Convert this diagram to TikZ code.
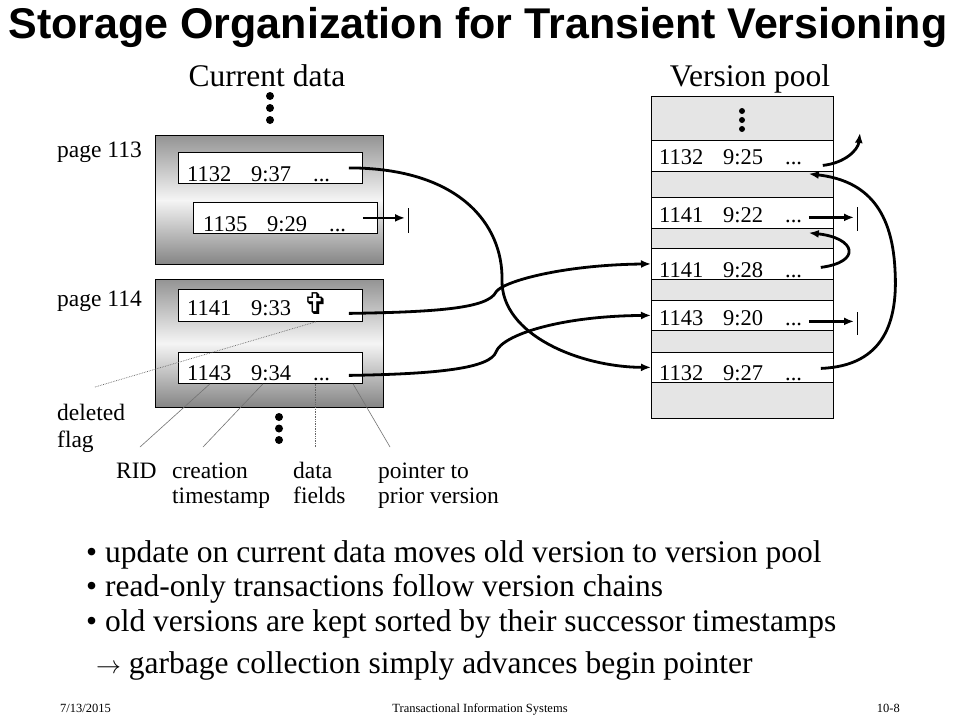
\documentclass[tikz,border=0pt]{standalone}
\usepackage{fontspec}
\setmainfont{Liberation Serif}
\newfontfamily\titlefont{Liberation Sans}
\newfontfamily\symfont{DejaVu Sans}
\usetikzlibrary{arrows.meta}
\newcommand\rectxt[2]{\makebox[64pt][l]{#1}\makebox[62pt][l]{#2}...}
\tikzset{
  recbox/.style={draw, fill=white, line width=0.8pt, inner sep=0pt, minimum height=31pt, anchor=north west},
  pagebox/.style={draw, line width=0.8pt, inner sep=0pt, anchor=north west, top color=black!42, bottom color=black!48, middle color=black!4},
  poolbox/.style={draw, line width=0.8pt, inner sep=0pt, anchor=north west, fill=black!10},
  rectext/.style={font=\fontsize{22.5}{26}\selectfont, inner sep=0pt, anchor=base west},
  lbl/.style={font=\fontsize{23.5}{28}\selectfont, inner sep=0pt, anchor=base west},
  head/.style={font=\fontsize{31.5}{36}\selectfont, inner sep=0pt, anchor=base},
  bul/.style={font=\fontsize{31.5}{36}\selectfont, inner sep=0pt, anchor=base west},
  foot/.style={font=\fontsize{12.5}{15}\selectfont, inner sep=0pt},
  ptr/.style={line width=2.8pt, -{Latex[length=10pt,width=8pt]}},
  nullbar/.style={line width=0.8pt},
  ann/.style={draw=black!55, line width=0.6pt},
  anndot/.style={draw=black!60, line width=0.7pt, densely dotted},
}
\begin{document}
\begin{tikzpicture}[x=1pt, y=-1pt]
\useasboundingbox (0,0) rectangle (960,720);
\fill[white] (0,0) rectangle (960,720);

% title
\node[font=\titlefont\bfseries\fontsize{43}{48}\selectfont, inner sep=0pt, anchor=base] (title) at (478,38) {Storage Organization for Transient Versioning};
\node[head] (hcur) at (267,86) {Current data};
\node[head] (hpool) at (750,86) {Version pool};

% current data pages
\node[pagebox, minimum width=228pt, minimum height=129pt] (p113) at (155,135) {};
\node[pagebox, minimum width=228pt, minimum height=128pt] (p114) at (155,279) {};
\node[lbl] (l113) at (57,157) {page 113};
\node[lbl] (l114) at (57,306) {page 114};

\fill (270,96) circle (4);
\fill (270,108) circle (4);
\fill (270,120) circle (4);
\fill (279,417) circle (4);
\fill (279,428.5) circle (4);
\fill (279,440) circle (4);

\node[recbox, minimum width=184pt] (r1132) at (178,152) {};
\node[recbox, minimum width=184pt] (r1135) at (193,202) {};
\node[recbox, minimum width=184pt, minimum height=32pt] (r1141) at (178,289) {};
\node[recbox, minimum width=184pt] (r1143) at (178,352) {};

\node[rectext] (t1132) at ([xshift=9pt,yshift=2pt]r1132.south west) {\rectxt{1132}{9:37}};
\node[rectext] (t1135) at ([xshift=10pt,yshift=2pt]r1135.south west) {\rectxt{1135}{9:29}};
\node[rectext] (t1141) at ([xshift=9pt,yshift=6pt]r1141.south west) {\makebox[64pt][l]{1141}9:33};
\node[rectext] (t1143) at ([xshift=9pt,yshift=3pt]r1143.south west) {\rectxt{1143}{9:34}};
\node[font=\symfont\bfseries\fontsize{30}{34}\selectfont, inner sep=0pt] (cross) at (316,304) {✞};

% version pool
\node[poolbox, minimum width=182pt, minimum height=322pt] (pool) at (651,96) {};
\fill (742,111) circle (3);
\fill (742,120) circle (3);
\fill (742,129) circle (3);
\node[recbox, minimum width=182pt] (v1) at (651,140) {};
\node[recbox, minimum width=182pt] (v2) at (651,197) {};
\node[recbox, minimum width=182pt] (v3) at (651,248) {};
\node[recbox, minimum width=182pt, minimum height=30pt] (v4) at (651,300) {};
\node[recbox, minimum width=182pt, minimum height=30pt] (v5) at (651,352) {};
\node[rectext] (tv1) at ([xshift=8pt,yshift=7pt]v1.south west) {\rectxt{1132}{9:25}};
\node[rectext] (tv2) at ([xshift=8pt,yshift=6pt]v2.south west) {\rectxt{1141}{9:22}};
\node[rectext] (tv3) at ([xshift=8pt,yshift=2pt]v3.south west) {\rectxt{1141}{9:28}};
\node[rectext] (tv4) at ([xshift=8pt,yshift=5pt]v4.south west) {\rectxt{1143}{9:20}};
\node[rectext] (tv5) at ([xshift=8pt,yshift=2pt]v5.south west) {\rectxt{1132}{9:27}};

% pointer start / end coordinates
\coordinate (s1) at ([xshift=-14pt]r1132.east);
\coordinate (s2) at ([xshift=-14pt,yshift=-8pt]r1141.east);
\coordinate (s3) at ([xshift=-14pt,yshift=-7.5pt]r1143.east);
\coordinate (s4) at ([xshift=-15pt]r1135.east);
\coordinate (z1) at (408,220);
\coordinate (sv1) at ([xshift=-11pt,yshift=-9.5pt]v1.east);
\coordinate (sv2) at ([xshift=-25pt,yshift=-4.5pt]v2.east);
\coordinate (sv3) at ([xshift=-13pt,yshift=-3.5pt]v3.east);
\coordinate (sv4) at ([xshift=-25pt,yshift=-6pt]v4.east);
\coordinate (sv5) at ([xshift=-13pt,yshift=-1pt]v5.east);
\coordinate (ev1) at (860,133);
\coordinate (ev5) at ([xshift=-25pt,yshift=-2pt]v1.south east);
\coordinate (ev3) at ([xshift=-25pt,yshift=-4pt]v2.south east);
\coordinate (z2) at (857,219);
\coordinate (z3) at (857,323.5);

% pointers from current data
\draw[ptr] (s1) .. controls (460,168) and (503,225) .. (502,280) .. controls (501,335) and (580,367) .. (v5.west);
\draw[ptr] (s2) .. controls (440,312) and (488,308) .. (496,292) .. controls (502,282) and (560,265) .. (v3.west);
\draw[ptr] (s3) .. controls (440,374) and (490,368) .. (496,352) .. controls (502,335) and (560,316) .. (v4.west);
\draw[ptr, shorten >=3pt] (s4) -- (z1 |- s4);
\draw[nullbar] ([yshift=12pt]z1) -- ([yshift=-13pt]z1);

% pointers in version pool
\draw[ptr] (sv1) .. controls (845,163) and (858,150) .. (ev1);
\draw[ptr] (sv5) .. controls (885,366) and (898,320) .. (895,270) .. controls (892,205) and (862,180) .. (ev5);
\draw[ptr] (sv3) .. controls (862,262) and (856,238) .. (ev3);
\draw[ptr, shorten >=3pt] (sv2) -- (z2 |- sv2);
\draw[nullbar] ([yshift=12pt]z2) -- ([yshift=-12pt]z2);
\draw[ptr, shorten >=3pt] (sv4) -- (z3 |- sv4);
\draw[nullbar] ([yshift=11.5pt]z3) -- ([yshift=-11.5pt]z3);

% annotations
\node[lbl] (ldel) at (57,420) {deleted};
\node[lbl] (lflag) at (57,447) {flag};
\node[lbl] (lrid) at (116,478) {RID};
\node[lbl] (lcre) at (172,478) {creation};
\node[lbl] (lts) at (172,503) {timestamp};
\node[lbl] (ldata) at (293,478) {data};
\node[lbl] (lfields) at (293,503) {fields};
\node[lbl] (lptr) at (378,478) {pointer to};
\node[lbl] (lprior) at (378,503) {prior version};

\coordinate (adel) at (95,387);
\coordinate (arid) at (140,447);
\coordinate (acre) at (203,447);
\coordinate (adata) at (315,447);
\coordinate (aptr) at (390,447);
\coordinate (xcross) at ([xshift=-47pt]r1141.south east);
\draw[anndot] (adel) -- (xcross);
\draw[ann] (arid) -- ([xshift=32pt]r1143.south west);
\draw[ann] (acre) -- ([xshift=85pt]r1143.south west);
\draw[anndot] (adata) -- ([xshift=137pt]r1143.south west);
\draw[ann] (aptr) -- ([xshift=175pt]r1143.south west);

% bullets
\node[bul] (b1) at (86,562) {• update on current data moves old version to version pool};
\node[bul] (b2) at (86,596) {• read-only transactions follow version chains};
\node[bul] (b3) at (86,631) {• old versions are kept sorted by their successor timestamps};
\node[bul] (b4) at (96,673) {$\rightarrow$ garbage collection simply advances begin pointer};

% footer
\node[foot, anchor=base west] (fdate) at (60,712) {7/13/2015};
\node[foot, anchor=base] (ftitle) at (480,712) {Transactional Information Systems};
\node[foot, anchor=base east] (fpage) at (900,712) {10-8};
\end{tikzpicture}
\end{document}
